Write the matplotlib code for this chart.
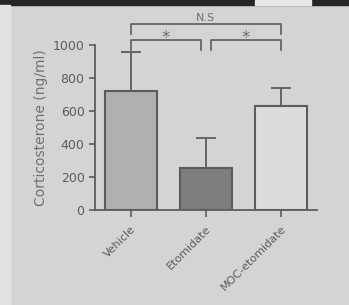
import matplotlib
matplotlib.use("Agg")
import matplotlib.pyplot as plt
from matplotlib.patches import Rectangle

# data
groups = ["Vehicle", "Etomidate", "MOC-etomidate"]
means = [720, 255, 630]
errors = [240, 185, 110]
bar_colors = ["#b0b0b0", "#7e7e7e", "#dcdcdc"]
yticks = [0, 200, 400, 600, 800, 1000]

bg = "#d4d4d4"
ink = "#5c5c5c"
txt = "#707070"

fig = plt.figure(figsize=(3.49, 3.05), dpi=100, facecolor=bg)

# photo borders: dark strip on top, lighter strip on the left, white label
fig.patches.append(Rectangle((0, 0.982), 1, 0.018, transform=fig.transFigure,
                             color="#262626", zorder=0))
fig.patches.append(Rectangle((0, 0), 0.03, 0.982, transform=fig.transFigure,
                             color="#e2e2e2", zorder=0))
fig.patches.append(Rectangle((0.73, 0.982), 0.16, 0.018, transform=fig.transFigure,
                             color="#e8e8e8", zorder=1))

ax = fig.add_axes([0.272, 0.311, 0.636, 0.541])
ax.set_facecolor(bg)
x = range(len(groups))
ax.bar(x, means, width=0.7, color=bar_colors, edgecolor=ink, linewidth=1.5, zorder=2)
ax.errorbar(x, means, yerr=[[0, 0, 0], errors], fmt="none", ecolor=ink,
            elinewidth=1.3, capsize=7, capthick=1.3, zorder=1)

ax.set_xlim(-0.48, 2.48)
ax.set_ylim(0, 1000)
ax.set_yticks(yticks)
ax.set_yticklabels([str(v) for v in yticks], color=txt, fontsize=9)
ax.set_xticks(list(x))
ax.set_xticklabels(groups, rotation=45, ha="right", rotation_mode="anchor",
                   color=txt, fontsize=8)
ax.set_ylabel("Corticosterone (ng/ml)", color=txt, fontsize=10, labelpad=3)

for s in ["top", "right"]:
    ax.spines[s].set_visible(False)
ax.spines["left"].set_color(ink)
ax.spines["bottom"].set_color(ink)
ax.spines["left"].set_linewidth(1.3)
ax.spines["bottom"].set_linewidth(1.3)
ax.tick_params(axis="both", colors=ink, width=1.2, length=4, direction="out")
ax.tick_params(axis="x", length=5, pad=5)

# significance brackets
def bracket(x0, x1, y, h, label, ty, fs):
    ax.plot([x0, x0, x1, x1], [y - h, y, y, y - h], color=ink, lw=1.2,
            clip_on=False, zorder=3)
    ax.text((x0 + x1) / 2, ty, label, ha="center", va="bottom",
            color=txt, fontsize=fs)

bracket(0, 2, 1130, 60, "N.S", 1135, 8)
bracket(0, 0.93, 1030, 60, "*", 990, 12)
bracket(1.07, 2, 1030, 60, "*", 990, 12)

fig.savefig("out.png", dpi=100, facecolor=bg)
